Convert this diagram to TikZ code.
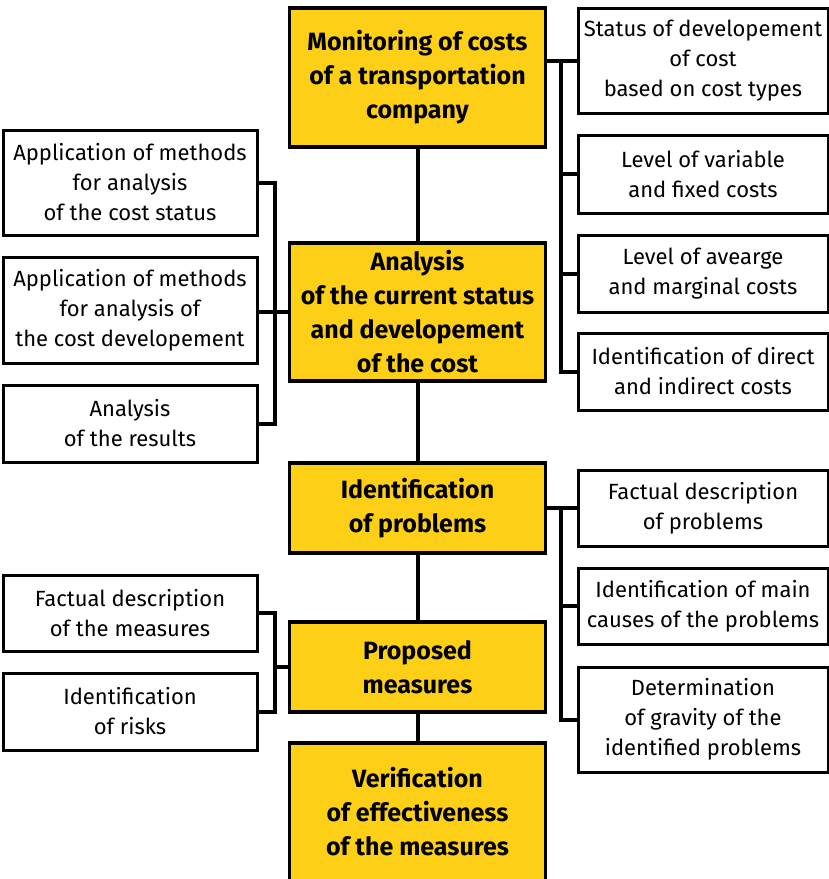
\documentclass[tikz,border=0pt]{standalone}
\usepackage{fontspec}
\setmainfont{Fira Sans}
\usepackage{tikz}
\usepackage{xcolor}
\definecolor{stepyellow}{RGB}{253,208,23}

\begin{document}
\begin{tikzpicture}[x=1pt,y=-1pt,line width=4pt,
  mainbox/.style={draw=black,line width=3.5pt,fill=stepyellow,minimum width=256pt,align=center,
    font=\fontsize{25}{34}\selectfont\bfseries},
  sidebox/.style={draw=black,line width=3pt,fill=white,align=center,
    font=\fontsize{22}{30}\selectfont}]
\tikzstyle{every node}+=[inner sep=0pt]
\useasboundingbox (0,0) rectangle (829,879);
\clip (0,0) rectangle (829,879);
\coordinate (lbus) at (275,0);
\coordinate (rbus) at (561,0);
\node [mainbox,minimum height=139pt] (mon) at (417.5,77.5) {Monitoring of costs\\of a transportation\\company};
\node [mainbox,minimum height=138pt] (ana) at (417.5,312) {Analysis\\of the current status\\and developement\\of the cost};
\node [mainbox,minimum height=90pt] (idp) at (417.5,508) {Identification\\of problems};
\node [mainbox,minimum height=90pt] (pro) at (417.5,667) {Proposed\\measures};
\node [mainbox,minimum height=138pt] (ver) at (417.5,812) {Verification\\of effectiveness\\of the measures};
\node [sidebox,minimum width=250pt,minimum height=105pt] (r1) at (703,60.5) {Status of developement\\of cost\\based on cost types};
\node [sidebox,minimum width=250pt,minimum height=78pt] (r2) at (703,174) {Level of variable\\and fixed costs};
\node [sidebox,minimum width=250pt,minimum height=77pt] (r3) at (703,273.5) {Level of avearge\\and marginal costs};
\node [sidebox,minimum width=250pt,minimum height=77pt] (r4) at (703,371.5) {Identification of direct\\and indirect costs};
\node [sidebox,minimum width=250pt,minimum height=76pt] (r5) at (703,508) {Factual description\\of problems};
\node [sidebox,minimum width=250pt,minimum height=76pt] (r6) at (703,606) {Identification of main\\causes of the problems};
\node [sidebox,minimum width=250pt,minimum height=105pt] (r7) at (703,719.5) {Determination\\of gravity of the\\identified problems};
\node [sidebox,minimum width=254pt,minimum height=105pt] (l1) at (130,182.5) {Application of methods\\for analysis\\of the cost status};
\node [sidebox,minimum width=254pt,minimum height=106pt] (l2) at (130,310) {Application of methods\\for analysis of\\the cost developement};
\node [sidebox,minimum width=254pt,minimum height=77pt] (l3) at (130,423.5) {Analysis\\of the results};
\node [sidebox,minimum width=254pt,minimum height=76pt] (l4) at (130,613) {Factual description\\of the measures};
\node [sidebox,minimum width=254pt,minimum height=77pt] (l5) at (130,711.5) {Identification\\of risks};
\foreach \a/\b in {mon/ana,ana/idp,idp/pro,pro/ver}
  \draw (\a.south) -- (\b.north);
\draw (mon.east |- r1.west) -- (r1.west);
\draw (rbus |- r1.west) |- (r4.west);
\foreach \r in {r2,r3}
  \draw (\r.west) -- (rbus |- \r.west);
\draw (idp.east) -- (r5.west);
\draw (rbus |- r5.west) |- (r7.west);
\draw (r6.west) -- (rbus |- r6.west);
\draw (l1.east) -| (lbus |- l3.east) -- (l3.east);
\draw (ana.west) -- (ana.west -| l2.east);
\draw (l4.east) -| (lbus |- l5.east) -- (l5.east);
\draw (pro.west) -- (lbus |- pro.west);
\end{tikzpicture}
\end{document}
